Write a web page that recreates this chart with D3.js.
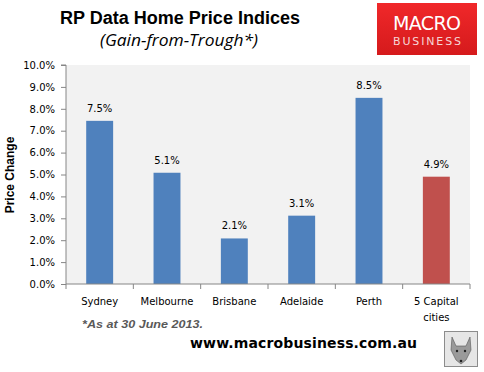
<!DOCTYPE html>
<html><head><meta charset="utf-8">
<script src="https://cdn.jsdelivr.net/npm/d3@7"></script>
<style>body{margin:0;background:#fff}svg{display:block}</style>
</head><body>
<script>
const categories = ["Sydney","Melbourne","Brisbane","Adelaide","Perth","5 Capital cities"];
const values = [7.45, 5.08, 2.08, 3.12, 8.5, 4.9];
const valueLabels = ["7.5%","5.1%","2.1%","3.1%","8.5%","4.9%"];
const yTicks = [0,1,2,3,4,5,6,7,8,9,10];

const W=484,H=372;
const m={l:66,r:14,t:65,b:88};
const svg=d3.select("body").append("svg").attr("width",W).attr("height",H);

svg.append("text").attr("x",180).attr("y",24).attr("text-anchor","middle")
  .attr("font-family","Liberation Sans, Arial, sans-serif").attr("font-weight","bold").attr("font-size",18)
  .attr("textLength",240).attr("lengthAdjust","spacingAndGlyphs").text("RP Data Home Price Indices");
svg.append("text").attr("x",179).attr("y",46).attr("text-anchor","middle")
  .attr("font-family","Open Sans, sans-serif").attr("font-style","italic").attr("font-size",16)
  .attr("textLength",158).attr("lengthAdjust","spacingAndGlyphs").text("(Gain-from-Trough*)");

// logo
const lg=svg.append("defs").append("linearGradient").attr("id","lg").attr("x1",0).attr("y1",0).attr("x2",0).attr("y2",1);
lg.append("stop").attr("offset","0").attr("stop-color","#f0282a");
lg.append("stop").attr("offset","1").attr("stop-color","#d51a1c");
svg.append("rect").attr("x",377).attr("y",3).attr("width",100).attr("height",52).attr("fill","url(#lg)");
svg.append("text").attr("x",427).attr("y",30).attr("text-anchor","middle").attr("fill","#fff")
  .attr("font-family","DejaVu Sans, sans-serif").attr("font-size",19).attr("textLength",68).text("MACRO");
svg.append("text").attr("x",427).attr("y",45).attr("text-anchor","middle").attr("fill","#f6d6d6")
  .attr("font-family","DejaVu Sans, sans-serif").attr("font-size",11).attr("textLength",68).text("BUSINESS");

const x=d3.scaleBand().domain(categories).range([m.l,W-m.r]).paddingInner(0.6).paddingOuter(0.3);
const y=d3.scaleLinear().domain([0,10]).range([284,m.t]);

svg.append("rect").attr("x",m.l).attr("y",m.t).attr("width",W-m.r-m.l).attr("height",284-m.t).attr("fill","#f2f2f2");

svg.selectAll(".bar").data(values).enter().append("rect")
  .attr("x",(d,i)=>x(categories[i])).attr("width",x.bandwidth())
  .attr("y",d=>y(d)).attr("height",d=>y(0)-y(d))
  .attr("fill",(d,i)=>i===5?"#c0504d":"#4f81bd");

svg.selectAll(".vl").data(values).enter().append("text")
  .attr("x",(d,i)=>x(categories[i])+x.bandwidth()/2).attr("y",d=>y(d)-9)
  .attr("text-anchor","middle").attr("font-family","DejaVu Sans, sans-serif").attr("font-size",10)
  .text((d,i)=>valueLabels[i]);

// y axis
const ya=svg.append("g").attr("transform",`translate(${m.l},0)`)
  .call(d3.axisLeft(y).tickValues(yTicks).tickSize(5).tickPadding(6).tickFormat(d=>d.toFixed(1)+"%"));
ya.select(".domain").attr("stroke","#868686").attr("d",`M-5,${y(10)}H0V${y(0)}`);
ya.selectAll(".tick line").attr("stroke","#868686");
ya.selectAll("text").attr("font-family","DejaVu Sans, sans-serif").attr("font-size",10).attr("fill","#000");

// x axis
const xa=svg.append("g").attr("transform","translate(0,284)");
xa.append("line").attr("x1",m.l).attr("x2",W-m.r).attr("stroke","#868686");
const step=(W-m.r-m.l)/categories.length;
d3.range(categories.length+1).forEach(i=>{
  xa.append("line").attr("x1",m.l+i*step).attr("x2",m.l+i*step).attr("y1",0).attr("y2",5).attr("stroke","#868686");
});
categories.forEach((c,i)=>{
  const cx=x(c)+x.bandwidth()/2;
  const lines=c==="5 Capital cities"?["5 Capital","cities"]:[c];
  lines.forEach((t,j)=>{
    xa.append("text").attr("x",cx).attr("y",21+j*16).attr("text-anchor","middle")
      .attr("font-family","DejaVu Sans, sans-serif").attr("font-size",10).text(t);
  });
});

svg.append("text").attr("transform","translate(14,175) rotate(-90)").attr("text-anchor","middle")
  .attr("font-family","Liberation Sans, Arial, sans-serif").attr("font-weight","bold").attr("font-size",12)
  .text("Price Change");

svg.append("text").attr("x",82).attr("y",328).attr("font-family","Liberation Sans, Arial, sans-serif")
  .attr("font-weight","bold").attr("font-style","italic").attr("font-size",11).attr("fill","#595959")
  .attr("textLength",121).attr("lengthAdjust","spacingAndGlyphs").text("*As at 30 June 2013.");
svg.append("text").attr("x",190).attr("y",348).attr("font-family","DejaVu Sans, sans-serif")
  .attr("font-weight","bold").attr("font-size",14).attr("textLength",227).text("www.macrobusiness.com.au");

// wolf icon box
svg.append("rect").attr("x",444.5).attr("y",331.5).attr("width",33).attr("height",35).attr("fill","#e6e6e6").attr("stroke","#8c8c8c");
svg.append("path").attr("d","M452,337 L456,346 L466,346 L470,337 L471,350 L466,360 L461,364 L456,360 L451,350 Z")
  .attr("fill","#9a9a9a").attr("stroke","#555").attr("stroke-width",0.6);
svg.append("circle").attr("cx",457).attr("cy",351).attr("r",1.2).attr("fill","#222");
svg.append("circle").attr("cx",465).attr("cy",351).attr("r",1.2).attr("fill","#222");
svg.append("circle").attr("cx",461).attr("cy",361).attr("r",1.3).attr("fill","#222");
</script>
</body></html>
